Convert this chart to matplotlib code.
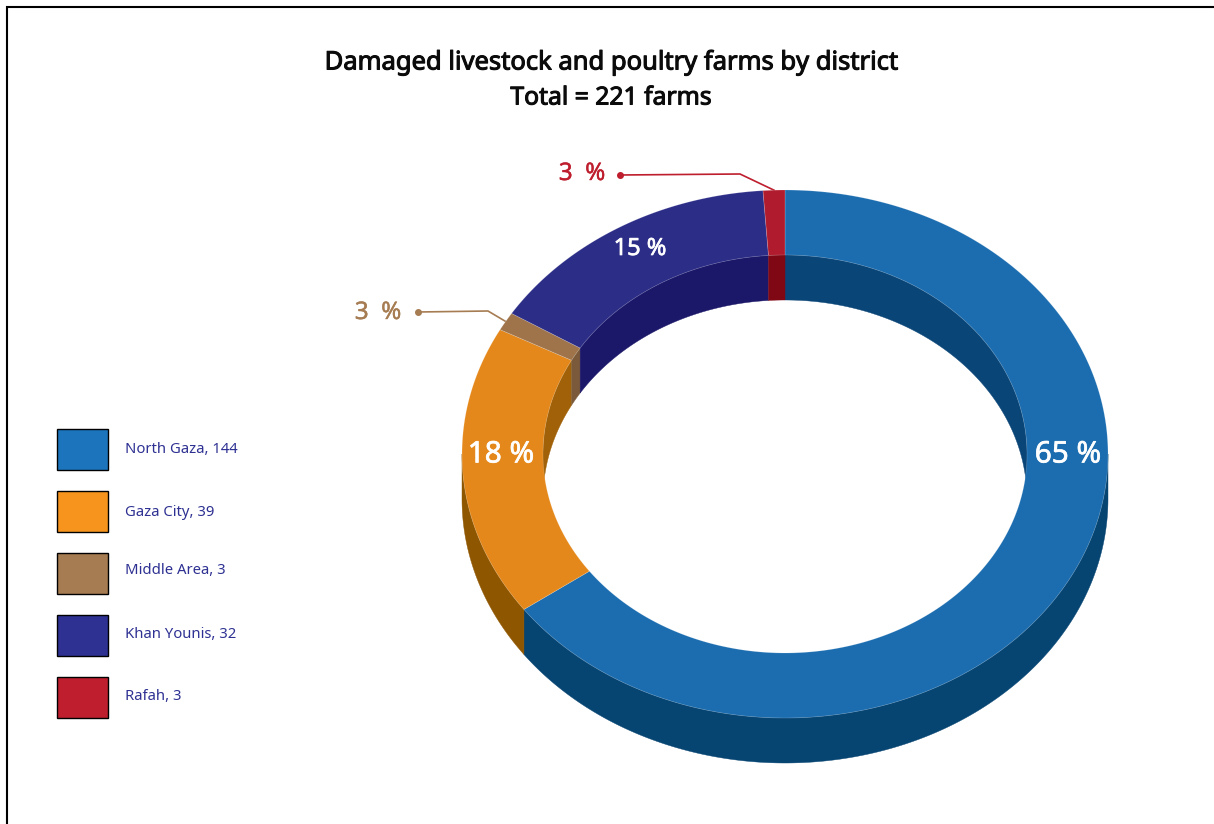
import numpy as np
import matplotlib
matplotlib.use("Agg")
import matplotlib.pyplot as plt
import matplotlib.patheffects as pe
from matplotlib.patches import Polygon, Rectangle

districts = ["North Gaza", "Gaza City", "Middle Area", "Khan Younis", "Rafah"]
farms = [144, 39, 3, 32, 3]
# slice sizes as drawn in the picture (in farm units); the small slices are drawn slightly off their counts
drawn = [143.6, 39.4, 2.5, 33.1, 2.4]
percent_labels = ["65 %", "18 %", "3  %", "15 %", "3  %"]
legend_colors = ["#1c75bc", "#f7941d", "#a67c52", "#2e3192", "#be1e2d"]
top_colors = ["#1b6db0", "#e5881b", "#9f744b", "#2c2d87", "#b01c2e"]
inner_colors = ["#0a4577", "#a06108", "#7a5a3a", "#1b1769", "#800814"]
outer_colors = ["#064472", "#8f5600", "#7a5a3a", "#1b1769", "#800814"]

FONT = "Noto Sans"
W, H = 1214, 824
CX, CY, RX, RY, IRX, IRY, DEPTH = 785, 454, 323, 264, 242, 199, 45

fig = plt.figure(figsize=(W / 100, H / 100), dpi=100)
ax = fig.add_axes([0, 0, 1, 1])
ax.set_xlim(0, W)
ax.set_ylim(H, 0)
ax.axis("off")


def heavy(color, width):
    return [pe.withStroke(linewidth=width, foreground=color)]


def pt(deg, rx, ry, dy=0.0):
    t = np.radians(deg)
    return CX + rx * np.sin(t), CY - ry * np.cos(t) + dy


def arc(a0, a1, rx, ry, dy=0.0):
    d = np.linspace(a0, a1, max(int(abs(a1 - a0) * 2), 2) + 1)
    x, y = pt(d, rx, ry, dy)
    return np.column_stack([x, y])


def clip(a0, a1, lo, hi):
    s, e = max(a0, lo), min(a1, hi)
    return (s, e) if e > s else None


total = sum(drawn)
edges = np.concatenate([[0], np.cumsum(drawn)]) / total * 360
spans = list(zip(edges[:-1], edges[1:]))

# inner wall (back half of the hole)
for (a0, a1), c in zip(spans, inner_colors):
    for lo, hi in [(-90, 90), (270, 450)]:
        r = clip(a0, a1, lo, hi)
        if r:
            poly = np.vstack([arc(r[0], r[1], IRX, IRY), arc(r[1], r[0], IRX, IRY, DEPTH)])
            ax.add_patch(Polygon(poly, closed=True, fc=c, ec=c, lw=0.3, zorder=1))
# outer wall (front half)
for (a0, a1), c in zip(spans, outer_colors):
    r = clip(a0, a1, 90, 270)
    if r:
        poly = np.vstack([arc(r[0], r[1], RX, RY), arc(r[1], r[0], RX, RY, DEPTH)])
        ax.add_patch(Polygon(poly, closed=True, fc=c, ec=c, lw=0.3, zorder=2))
# top face
for (a0, a1), c in zip(spans, top_colors):
    poly = np.vstack([arc(a0, a1, RX, RY), arc(a1, a0, IRX, IRY)])
    ax.add_patch(Polygon(poly, closed=True, fc=c, ec=(1, 1, 1, 0.22), lw=0.5, zorder=3))

# frame of the page
ax.plot([7, 7, W + 5], [H + 5, 6.5, 6.5], color="black", lw=1.5, zorder=0, solid_joinstyle="miter")

# titles
for y, s, size in [(63, "Damaged livestock and poultry farms by district", 18.4), (98, "Total = 221 farms", 17.8)]:
    ax.text(611, y, s, ha="center", va="center", fontsize=size, family=FONT, color="#0b0b0b",
            path_effects=heavy("#0b0b0b", 0.75))

# labels on the ring
for i, xy, size in [(0, (1068, 455), 21.4), (1, (501, 455), 21.4), (3, (640, 249), 17)]:
    ax.text(*xy, percent_labels[i], color="white", fontsize=size, ha="center", va="center", family=FONT,
            zorder=5, path_effects=heavy("white", 0.5))

# outside labels with leader lines
for i, knee, dot, txt in [(4, (740, 174), (620, 175), (582, 174)),
                          (2, (488, 311), (418, 312), (378, 313))]:
    a = (spans[i][0] + spans[i][1]) / 2
    end = pt(a, RX, RY)
    ax.plot([dot[0], knee[0], end[0]], [dot[1], knee[1], end[1]], color=legend_colors[i], lw=1.2, zorder=2.5)
    ax.plot(*dot, "o", ms=4, color=legend_colors[i], zorder=5)
    ax.text(*txt, percent_labels[i], color=legend_colors[i], fontsize=17.4, ha="center", va="center", family=FONT,
            zorder=5, path_effects=heavy(legend_colors[i], 0.3))

# legend
for i, (name, n, c, ty) in enumerate(zip(districts, farms, legend_colors, [449, 512, 571, 634, 697])):
    y = 429 + i * 62
    ax.add_patch(Rectangle((57, y), 51, 41, fc=c, ec="black", lw=1.0, zorder=4))
    ax.text(125, ty, f"{name}, {n}", color="#2e3192", fontsize=10.7, ha="left", va="center", family=FONT, zorder=4)

fig.savefig("out.png", dpi=100)
